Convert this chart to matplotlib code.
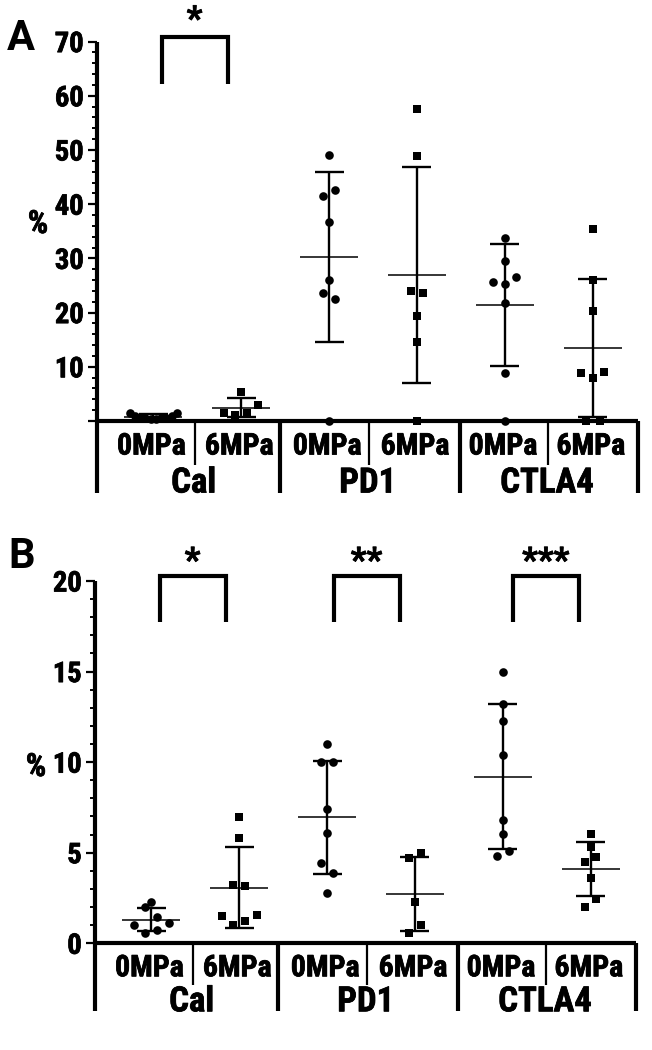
import matplotlib
matplotlib.use('Agg')
import matplotlib.pyplot as plt
import matplotlib.patheffects as pe
import numpy as np
from matplotlib.ticker import MultipleLocator, FixedLocator, FixedFormatter

NARROW = ['Roboto Condensed', 'DejaVu Sans']
WIDE = ['Roboto', 'DejaVu Sans']
plt.rcParams['font.family'] = NARROW
plt.rcParams['font.weight'] = 'bold'
HEAVY = [pe.withStroke(linewidth=0.55, foreground='black')]

# ---------------- data ----------------
groups = ['Cal', 'PD1', 'CTLA4']
conditions = ['0MPa', '6MPa']

# Panel A values (%)
a_cal_0 = [1.5, 1.0, 0.6, 0.5, 0.4, 0.4, 0.5, 0.6, 1.0, 1.5]
a_cal_6 = [5.4, 2.95, 1.5, 1.1, 1.4]
a_pd1_0 = [49.1, 41.6, 42.6, 36.7, 26.0, 23.6, 22.5, 0.0]
a_pd1_6 = [57.6, 48.9, 24.0, 23.6, 19.4, 14.6, 0.0]
a_ctla4_0 = [33.8, 29.5, 25.6, 26.6, 25.3, 21.7, 8.8, 0.0]
a_ctla4_6 = [35.5, 26.1, 20.3, 8.9, 9.1, 8.0, 0.0, 0.0]

# Panel B values (%)
b_cal_0 = [2.26, 1.99, 1.43, 1.01, 1.14, 0.55, 0.73]
b_cal_6 = [6.99, 5.79, 3.22, 3.16, 1.51, 1.56, 1.25, 1.01]
b_pd1_0 = [10.98, 9.99, 9.99, 7.40, 6.11, 4.42, 3.90, 2.79]
b_pd1_6 = [5.0, 4.69, 2.30, 1.01, 0.59]
b_ctla4_0 = [14.99, 13.19, 12.29, 10.39, 6.80, 6.01, 5.11, 4.82]
b_ctla4_6 = [6.01, 5.33, 4.78, 4.50, 3.62, 2.43, 2.02]

a_sig = ['*', '', '']
b_sig = ['*', '**', '***']

a_yticks = [0, 10, 20, 30, 40, 50, 60, 70]
a_yticklabels = ['', '10', '20', '30', '40', '50', '60', '70']
b_yticks = [0, 5, 10, 15, 20]
b_yticklabels = ['0', '5', '10', '15', '20']

# horizontal scatter offsets (layout only)
a_offsets = [
    [-0.27, -0.21, -0.15, -0.09, -0.03, 0.03, 0.09, 0.15, 0.21, 0.27],
    [0, 0.19, -0.2, -0.065, 0.065],
    [0, -0.065, 0.065, 0, 0, -0.065, 0.065, 0],
    [0, 0, -0.065, 0.065, 0, 0, 0],
    [0, 0, -0.135, 0.13, 0, 0, 0, 0],
    [0, 0, 0, -0.13, 0.13, 0, -0.08, 0.08],
]
b_offsets = [
    [0, -0.068, 0.065, -0.197, 0.197, -0.068, 0.065],
    [0, 0, -0.065, 0.068, -0.197, 0.2, 0.068, -0.065],
    [0, -0.065, 0.065, 0, 0, -0.065, 0.065, 0],
    [0.068, -0.065, 0, 0.068, -0.065],
    [0, 0, 0, 0, 0, 0, 0.065, -0.065],
    [0, 0, 0.065, -0.068, 0, 0.065, -0.068],
]

W, H = 652, 1050
fig = plt.figure(figsize=(W / 100, H / 100), dpi=100)

XL, XR = -0.64, 5.52
THIN_SEP = [0.47, 2.45, 4.49]
THICK_SEP = [1.44, 3.49]
PX_PER_UNIT = 87.9


def axes_rect(left, right, top, bottom):
    return [left / W, 1 - bottom / H, (right - left) / W, (bottom - top) / H]


def draw_panel(rect, series, offsets, ylim, yticks, yticklabels, minor,
               sig, br_top, br_bot, star_y, letter, letter_xy, pct_xy,
               sub_depth, grp_depth, thin_depth, thick_depth):
    ax = fig.add_axes(rect)
    ax_h = rect[3] * H
    ax_left_px = rect[0] * W
    ax.set_xlim(XL, XR)
    ax.set_ylim(*ylim)
    for s in ['top', 'right']:
        ax.spines[s].set_visible(False)
    for s in ['left', 'bottom']:
        ax.spines[s].set_linewidth(3.0)
        ax.spines[s].set_capstyle('butt')
    ax.set_xticks([])
    ax.yaxis.set_major_locator(FixedLocator(yticks))
    ax.yaxis.set_major_formatter(FixedFormatter(yticklabels))
    ax.yaxis.set_minor_locator(MultipleLocator(minor))
    ax.tick_params(axis='y', which='major', length=6.5, width=1.6, pad=3,
                   labelsize=20.5)
    ax.tick_params(axis='y', which='minor', length=3.6, width=1.4)
    for lab in ax.get_yticklabels():
        lab.set_fontweight('bold')
        lab.set_path_effects(HEAVY)

    # scatter + mean + SD
    for i, (vals, offs) in enumerate(zip(series, offsets)):
        vals = np.asarray(vals, dtype=float)
        xs = i + np.asarray(offs)
        marker = 'o' if i % 2 == 0 else 's'
        ms = 6.2 if marker == 'o' else 5.6
        ax.plot(xs, vals, linestyle='none', marker=marker, ms=ms,
                color='black', mew=0, clip_on=False, zorder=3)
        m = vals.mean()
        sd = vals.std(ddof=1)
        ax.plot([i - 0.33, i + 0.33], [m, m], color='black', lw=1.1,
                solid_capstyle='butt', zorder=4)
        ax.plot([i, i], [m - sd, m + sd], color='black', lw=1.7,
                solid_capstyle='butt', zorder=4, clip_on=False)
        for yv in (m - sd, m + sd):
            ax.plot([i - 0.165, i + 0.165], [yv, yv], color='black', lw=1.7,
                    solid_capstyle='butt', zorder=4, clip_on=False)

    # significance brackets
    for gi, s in enumerate(sig):
        if not s:
            continue
        c = THIN_SEP[gi]
        ax.plot([c - 0.375, c - 0.375, c + 0.375, c + 0.375],
                [br_bot, br_top, br_top, br_bot], color='black', lw=3.0,
                solid_joinstyle='miter', solid_capstyle='butt', clip_on=False)
        fig.text((ax_left_px + (c - XL) * PX_PER_UNIT) / W, 1 - star_y / H, s,
                 ha='center', va='center', fontsize=25, fontweight='bold',
                 family=WIDE, path_effects=HEAVY)

    # category axis below
    tr = ax.get_xaxis_transform()

    def yf(depth_px):
        return -depth_px / ax_h
    for x in THIN_SEP:
        ax.plot([x, x], [0, yf(thin_depth)], transform=tr, color='black',
                lw=1.6, solid_capstyle='butt', clip_on=False)
    for x in THICK_SEP + [XR]:
        ax.plot([x, x], [0, yf(thick_depth)], transform=tr, color='black',
                lw=3.0, solid_capstyle='butt', clip_on=False)
    ax.plot([XL, XL], [0, yf(thick_depth)], transform=tr, color='black',
            lw=3.0, solid_capstyle='butt', clip_on=False)
    for i in range(6):
        ax.text(i - 0.02, yf(sub_depth), conditions[i % 2], transform=tr,
                ha='center', va='center', fontsize=21.5, fontweight='bold',
                path_effects=HEAVY)
    for gi, g in enumerate(groups):
        ax.text(THIN_SEP[gi] - 0.01, yf(grp_depth), g, transform=tr,
                ha='center', va='center', fontsize=25, fontweight='bold',
                path_effects=HEAVY)

    fig.text(letter_xy[0] / W, 1 - letter_xy[1] / H, letter, ha='center',
             va='center', fontsize=30, fontweight='bold', family=WIDE)
    fig.text(pct_xy[0] / W, 1 - pct_xy[1] / H, '%', ha='center',
             va='center', fontsize=23, fontweight='bold', path_effects=HEAVY)
    return ax


draw_panel(axes_rect(97, 97 + (XR - XL) * PX_PER_UNIT, 41.6, 421.0),
           [a_cal_0, a_cal_6, a_pd1_0, a_pd1_6, a_ctla4_0, a_ctla4_6],
           a_offsets, (0, 70), a_yticks, a_yticklabels, 2,
           a_sig, 70.8, 62.1, 20.5, 'A', (21, 39), (38, 224),
           25.5, 62, 44, 72)

draw_panel(axes_rect(95, 95 + (XR - XL) * PX_PER_UNIT, 581.0, 943.3),
           [b_cal_0, b_cal_6, b_pd1_0, b_pd1_6, b_ctla4_0, b_ctla4_6],
           b_offsets, (0, 20), b_yticks, b_yticklabels, 1,
           b_sig, 20.27, 17.72, 562, 'B', (22, 556), (36, 767),
           25, 58.5, 42, 68)

fig.savefig('out.png', dpi=100)
